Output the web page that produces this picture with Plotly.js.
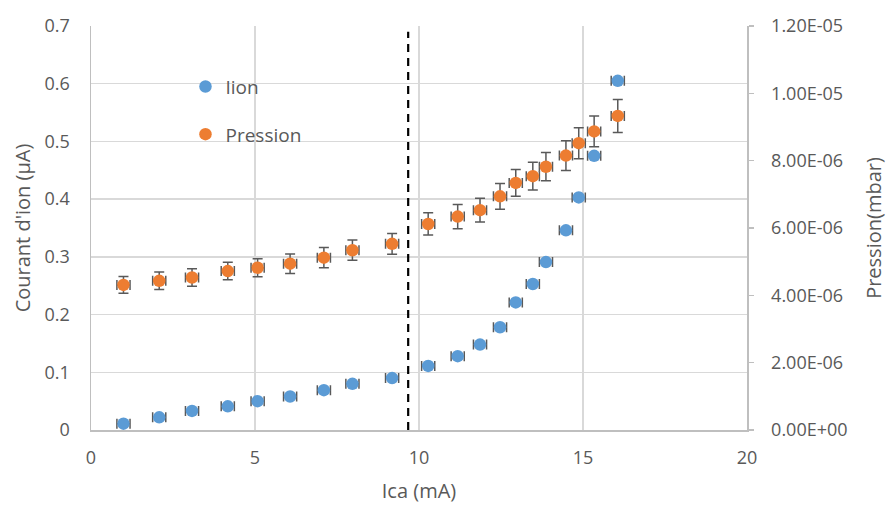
<!DOCTYPE html>
<html>
<head>
<meta charset="utf-8">
<script src="https://cdn.plot.ly/plotly-3.0.1.min.js"></script>
<style>html,body{margin:0;padding:0;background:#fff;}#chart{width:887px;height:506px;}</style>
</head>
<body>
<div id="chart"></div>
<script>
// Ica (mA)
const ica = [0.99, 2.08, 3.08, 4.17, 5.08, 6.07, 7.10, 7.97, 9.18, 10.28, 11.18, 11.86, 12.47, 12.95, 13.47, 13.87, 14.48, 14.87, 15.34, 16.06];
// Courant d'ion (µA)
const ion = [0.011, 0.022, 0.033, 0.041, 0.050, 0.058, 0.069, 0.080, 0.090, 0.111, 0.128, 0.148, 0.178, 0.221, 0.253, 0.291, 0.346, 0.403, 0.475, 0.605];
// Pression (mbar)
const pression = [4.31e-6, 4.43e-6, 4.53e-6, 4.72e-6, 4.82e-6, 4.94e-6, 5.12e-6, 5.34e-6, 5.53e-6, 6.12e-6, 6.34e-6, 6.53e-6, 6.94e-6, 7.34e-6, 7.54e-6, 7.82e-6, 8.15e-6, 8.52e-6, 8.87e-6, 9.33e-6];
const pressionErr = [0.25e-6, 0.26e-6, 0.26e-6, 0.26e-6, 0.27e-6, 0.29e-6, 0.30e-6, 0.30e-6, 0.31e-6, 0.33e-6, 0.36e-6, 0.35e-6, 0.38e-6, 0.40e-6, 0.41e-6, 0.42e-6, 0.44e-6, 0.46e-6, 0.46e-6, 0.49e-6];
const icaErr = 0.2;
// dashed threshold line
const seuilX = [9.67, 9.67];
const seuilY = [0, 0.69];
// right axis ticks
const y2Vals = [0, 2e-6, 4e-6, 6e-6, 8e-6, 1e-5, 1.2e-5];
const y2Text = ['0.00E+00', '2.00E-06', '4.00E-06', '6.00E-06', '8.00E-06', '1.00E-05', '1.20E-05'];

const FONT = 'Open Sans, sans-serif';
const TXT = '#595959';
const errStyle = {color: '#595959', thickness: 1.5, width: 5};

const traces = [
  {
    x: seuilX, y: seuilY, type: 'scatter', mode: 'lines', yaxis: 'y',
    line: {color: '#000000', width: 2.2, dash: '8px,6px'},
    showlegend: false, hoverinfo: 'skip'
  },
  {
    x: ica, y: ion, type: 'scatter', mode: 'markers', name: 'Iion', yaxis: 'y',
    legendgroup: 'a',
    marker: {color: '#5b9bd5', size: 12.5},
    error_x: Object.assign({type: 'constant', value: icaErr, visible: true}, errStyle)
  },
  {
    x: ica, y: pression, type: 'scatter', mode: 'markers', name: 'Pression', yaxis: 'y2',
    legendgroup: 'b',
    marker: {color: '#ed7d31', size: 12.5},
    error_x: Object.assign({type: 'constant', value: icaErr, visible: true}, errStyle),
    error_y: Object.assign({type: 'data', array: pressionErr, visible: true}, errStyle)
  }
];

const layout = {
  width: 887, height: 506,
  margin: {l: 91, r: 140, t: 26, b: 76},
  paper_bgcolor: '#ffffff', plot_bgcolor: '#ffffff',
  font: {family: FONT, size: 18, color: TXT},
  showlegend: true,
  legend: {
    x: 0.144, y: 0.897, xanchor: 'left', yanchor: 'top',
    bgcolor: 'rgba(0,0,0,0)', font: {family: FONT, size: 19, color: TXT},
    tracegroupgap: 20, itemwidth: 30
  },
  xaxis: {
    range: [0, 20], tickvals: [0, 5, 10, 15, 20], ticktext: ['0', '5', '10', '15', '20'],
    showgrid: true, gridcolor: '#d9d9d9', gridwidth: 1.5,
    showline: true, linecolor: '#bfbfbf', linewidth: 1.5,
    zeroline: false, ticks: '', ticklabelstandoff: 11,
    title: {text: 'Ica (mA)', font: {family: FONT, size: 20, color: TXT}, standoff: 16}
  },
  yaxis: {
    range: [0, 0.7],
    tickvals: [0, 0.1, 0.2, 0.3, 0.4, 0.5, 0.6, 0.7],
    ticktext: ['0', '0.1', '0.2', '0.3', '0.4', '0.5', '0.6', '0.7'],
    showgrid: true, gridcolor: '#d9d9d9', gridwidth: 1.5,
    showline: true, linecolor: '#bfbfbf', linewidth: 1.5,
    zeroline: false, ticks: '', ticklabelstandoff: 16,
    title: {text: "Courant d'ion (µA)", font: {family: FONT, size: 20, color: TXT}, standoff: 8}
  },
  yaxis2: {
    overlaying: 'y', side: 'right', range: [0, 1.2e-5],
    tickvals: y2Vals, ticktext: y2Text,
    showgrid: false, showline: true, linecolor: '#bfbfbf', linewidth: 1.5,
    zeroline: false, ticks: 'outside', ticklen: 5, tickcolor: '#bfbfbf', tickwidth: 1.5,
    ticklabelstandoff: 14,
    title: {text: 'Pression(mbar)', font: {family: FONT, size: 20, color: TXT}, standoff: 22}
  }
};

Plotly.newPlot('chart', traces, layout, {displayModeBar: false, staticPlot: true});
</script>
</body>
</html>
